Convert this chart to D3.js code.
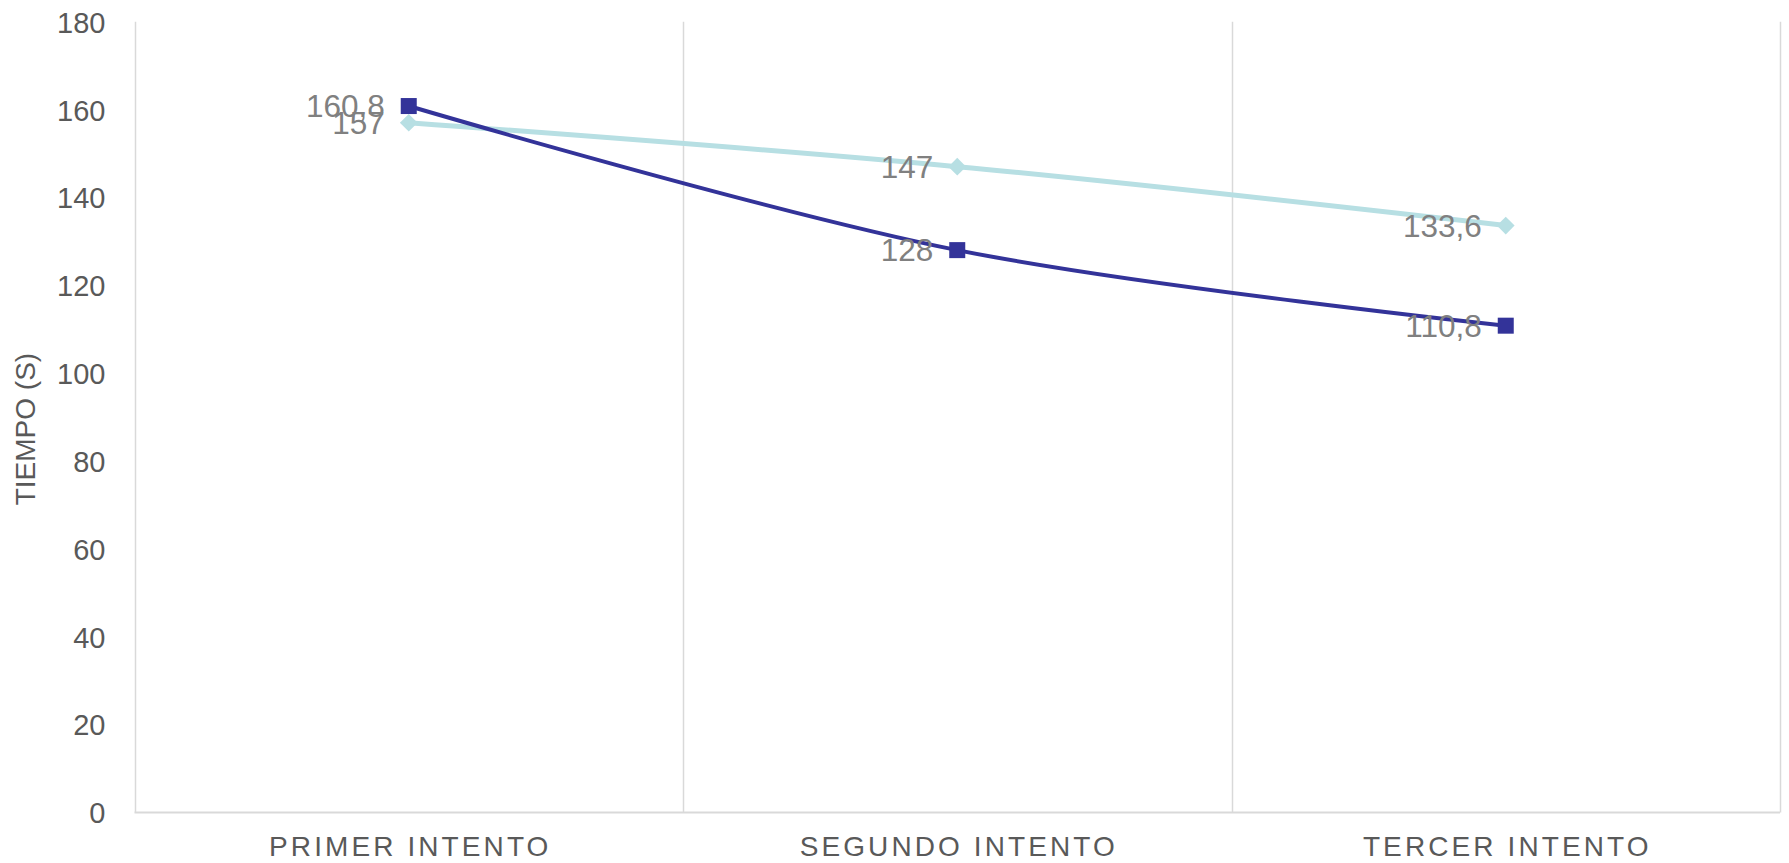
<!DOCTYPE html>
<html>
<head>
<meta charset="utf-8">
<script src="https://cdn.jsdelivr.net/npm/d3@7"></script>
<style>
  html, body { margin: 0; padding: 0; background: #ffffff; }
  svg text { font-family: "Liberation Sans", Arial, sans-serif; }
</style>
</head>
<body>
<svg id="chart" width="1789" height="863"></svg>
<script>
// Attempt labels along the x axis
const categories = ["PRIMER INTENTO", "SEGUNDO INTENTO", "TERCER INTENTO"];
// Time series (seconds)
const seriesLight = [157, 147, 133.6];
const seriesDark = [160.8, 128, 110.8];
// Labels as printed next to each point
const labelsLight = ["157", "147", "133,6"];
const labelsDark = ["160,8", "128", "110,8"];
// Y axis ticks
const yTicks = [0, 20, 40, 60, 80, 100, 120, 140, 160, 180];
const yTitle = "TIEMPO (S)";

const svg = d3.select("#chart");
const margin = { left: 134.5, right: 9, top: 21.7, bottom: 50.6 };
const W = 1789, H = 863;
const plotW = W - margin.left - margin.right;
const plotH = H - margin.top - margin.bottom;

const x = d3.scaleBand().domain(categories).range([margin.left, margin.left + plotW]);
const y = d3.scaleLinear().domain([0, 180]).range([margin.top + plotH, margin.top]);

const gridColor = "#d9d9d9";
const textColor = "#595959";

// Vertical category separators (including plot edges)
const edges = categories.map(c => x(c)).concat([margin.left + plotW]);
svg.append("g").selectAll("line").data(edges).join("line")
  .attr("x1", d => Math.round(d) + 0.5).attr("x2", d => Math.round(d) + 0.5)
  .attr("y1", margin.top).attr("y2", y(0))
  .attr("stroke", gridColor).attr("stroke-width", 1.5);

// Horizontal axis line
svg.append("line")
  .attr("x1", margin.left).attr("x2", margin.left + plotW)
  .attr("y1", y(0)).attr("y2", y(0))
  .attr("stroke", gridColor).attr("stroke-width", 2);

// Y axis tick labels
const yAxis = d3.axisLeft(y).tickValues(yTicks).tickSize(0).tickPadding(0);
const gy = svg.append("g").attr("transform", `translate(${margin.left - 29},0)`).call(yAxis);
gy.select(".domain").remove();
gy.selectAll("text")
  .attr("fill", textColor)
  .style("font-size", "29px")
  .style("font-family", "'Liberation Sans', Arial, sans-serif")
  .attr("dy", "0.36em");

// X axis category labels
const xAxis = d3.axisBottom(x).tickSize(0).tickPadding(0);
const gx = svg.append("g").attr("transform", `translate(0,${y(0)})`).call(xAxis);
gx.select(".domain").remove();
gx.selectAll("text")
  .attr("fill", textColor)
  .attr("x", 1.5)
  .attr("y", 44)
  .attr("dy", 0)
  .style("font-size", "28px")
  .style("letter-spacing", "3.1px")
  .style("font-family", "'Liberation Sans', Arial, sans-serif");

// Y axis title
svg.append("text")
  .attr("transform", `translate(35,${margin.top + plotH / 2 + 12}) rotate(-90)`)
  .attr("text-anchor", "middle")
  .attr("fill", textColor)
  .style("font-size", "28px")
  .text(yTitle);

const cx = c => x(c) + x.bandwidth() / 2;
const line = d3.line()
  .x((d, i) => cx(categories[i]))
  .y(d => y(d))
  .curve(d3.curveCatmullRom.alpha(0.5));

const lightColor = "#b7dfe3";
const darkColor = "#333399";

// Light series: line + diamonds
svg.append("path").datum(seriesLight)
  .attr("d", line).attr("fill", "none")
  .attr("stroke", lightColor).attr("stroke-width", 5).attr("stroke-linejoin", "round");
svg.append("g").selectAll("path").data(seriesLight).join("path")
  .attr("d", d3.symbol().type(d3.symbolDiamond2).size(200))
  .attr("transform", (d, i) => `translate(${cx(categories[i])},${y(d)})`)
  .attr("fill", lightColor);

// Dark series: line + squares
svg.append("path").datum(seriesDark)
  .attr("d", line).attr("fill", "none")
  .attr("stroke", darkColor).attr("stroke-width", 4).attr("stroke-linejoin", "round");
svg.append("g").selectAll("rect").data(seriesDark).join("rect")
  .attr("x", (d, i) => cx(categories[i]) - 8)
  .attr("y", d => y(d) - 8)
  .attr("width", 16).attr("height", 16)
  .attr("fill", darkColor);

// Value labels left of each point
const labelColor = "#808080";
function drawLabels(values, labels) {
  svg.append("g").selectAll("text").data(values).join("text")
    .attr("x", (d, i) => cx(categories[i]) - 24)
    .attr("y", d => y(d))
    .attr("dy", "0.36em")
    .attr("text-anchor", "end")
    .attr("fill", labelColor)
    .style("font-size", "31.5px")
    .text((d, i) => labels[i]);
}
drawLabels(seriesLight, labelsLight);
drawLabels(seriesDark, labelsDark);
</script>
</body>
</html>
